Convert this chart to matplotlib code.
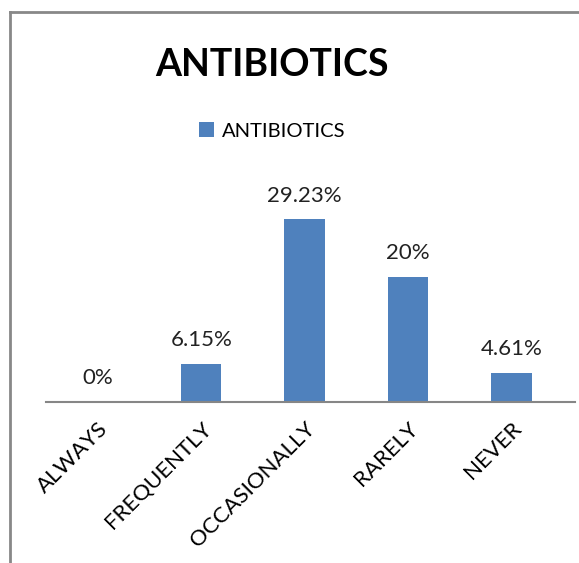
import matplotlib.pyplot as plt
from matplotlib.lines import Line2D

# datos del grafico
categorias = ['ALWAYS', 'FREQUENTLY', 'OCCASIONALLY', 'RARELY', 'NEVER']
valores = [0, 6.15, 29.23, 20, 4.61]
etiquetas = ['0%', '6.15%', '29.23%', '20%', '4.61%']
serie = 'ANTIBIOTICS'

plt.rcParams['font.family'] = ['Lato', 'DejaVu Sans']

fig = plt.figure(figsize=(5.79, 5.63), dpi=100)
ax = fig.add_axes([0.0795, 0.286, 0.914, 0.355])

barras = ax.bar(range(len(categorias)), valores, width=0.39, color='#4F81BD', label=serie)
for i, v in enumerate(valores):
    ax.annotate(etiquetas[i], (i, v), xytext=(0, 10), textcoords='offset points',
                ha='center', va='bottom', fontsize=16, color='#222222')

ax.set_xlim(-0.5, 4.616)
ax.set_ylim(0, 32)
ax.set_xticks(range(len(categorias)))
ax.set_xticklabels(categorias, rotation=45, ha='right', rotation_mode='anchor', fontsize=16)
ax.tick_params(axis='x', length=0, pad=12)
ax.set_yticks([])
for s in ['top', 'right', 'left']:
    ax.spines[s].set_visible(False)
ax.spines['bottom'].set_color('#868686')
ax.spines['bottom'].set_linewidth(1.5)

# titulo y leyenda
fig.text(0.47, 0.885, 'ANTIBIOTICS', ha='center', va='center', fontsize=27, fontweight='bold')
fig.legend(handles=[barras], loc='center', bbox_to_anchor=(0.47, 0.767), frameon=False,
           fontsize=14.5, handlelength=0.75, handleheight=0.75, handletextpad=0.4)

# marco del grafico
fig.add_artist(Line2D([10/579, 10/579], [0, 1 - 12/563], color='#888888', lw=2))
fig.add_artist(Line2D([10/579, 1], [1 - 12/563, 1 - 12/563], color='#888888', lw=2))

fig.savefig('out.png', dpi=100)
